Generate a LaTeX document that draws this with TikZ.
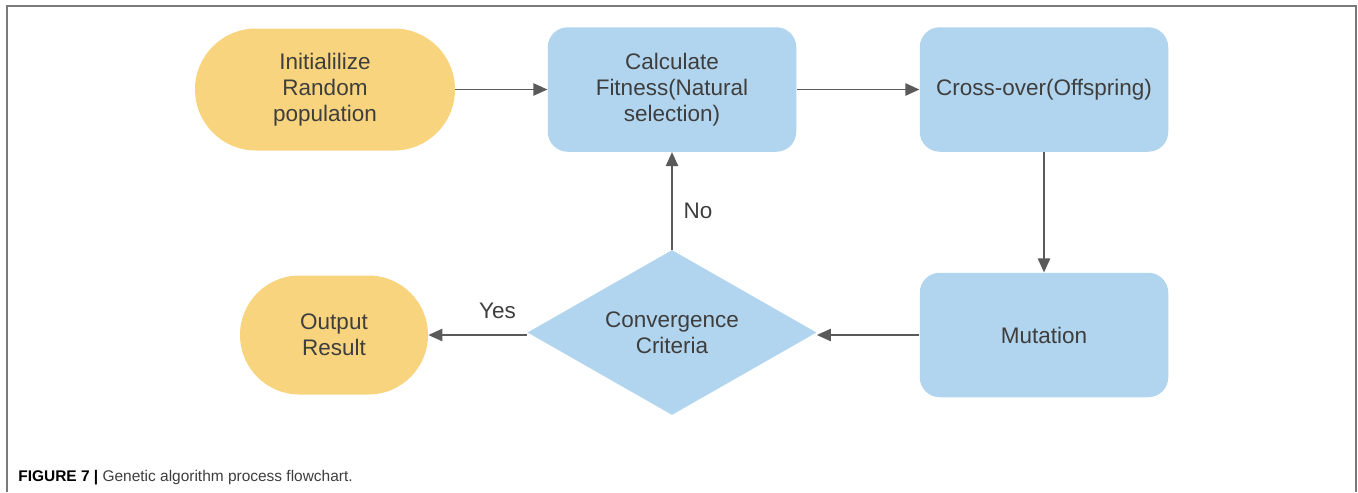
\documentclass[tikz,border=0pt]{standalone}
\usepackage{fontspec}
\setmainfont{Liberation Sans}
\usepackage{xcolor}
\usepackage{tikz}
\usetikzlibrary{positioning,arrows.meta,shapes.geometric}
\definecolor{gold}{HTML}{F9D47E}
\definecolor{sky}{HTML}{B1D5EE}
\definecolor{ink}{HTML}{3E3E3E}
\definecolor{wire}{HTML}{5A5A5A}
\definecolor{edge}{HTML}{7A7A7A}
\tikzset{
  base/.style={text=ink,align=center,inner sep=0pt,
               font=\fontsize{12.8}{14.8}\selectfont},
  terminal/.style={base,fill=gold},
  process/.style={base,fill=sky,rounded corners=0.4cm,
                  minimum width=4.97cm,minimum height=2.49cm},
  decision/.style={base,fill=sky,diamond,aspect=1.75,
                   minimum width=5.78cm,minimum height=3.3cm},
  flow/.style={draw=wire,line width=1pt,-{Triangle[length=8pt,width=7pt]}},
  tag/.style={text=ink,font=\fontsize{12.8}{14.8}\selectfont}
}

\begin{document}
\begin{tikzpicture}
\useasboundingbox (0,0) rectangle (27.16,-9.84);
\draw[edge,line width=1.1pt] (0.14,-9.84) -- (0.14,-0.12) -- (27.12,-0.12) -- (27.12,-9.84);

\node[terminal,rounded corners=1.22cm,minimum width=5.2cm,minimum height=2.44cm]
  (init) at (6.5,-1.79) {Initialilize\\Random\\population};
\node[process] (calc) at (13.44,-1.79) {Calculate\\Fitness(Natural\\selection)};
\node[process] (cross) at (20.88,-1.79) {Cross-over(Offspring)};
\node[process] (mut) at (20.88,-6.7) {Mutation};
\node[decision] (dia) at (13.44,-6.65) {Convergence\\Criteria};
\node[terminal,rounded corners=1.19cm,minimum width=3.76cm,minimum height=2.38cm]
  (out) at (6.68,-6.7) {Output\\Result};

\draw[flow] (init) -- (calc);
\draw[flow] (calc) -- (cross);
\draw[flow] (cross) -- (mut);
\draw[flow] (mut) -- (mut -| dia.east);
\draw[flow] (dia) -- node[tag,pos=0.4,right=0.1cm] (no) {No} (calc);
\draw[flow] (dia.west |- out) -- node[tag,pos=0.3,above=0.2cm] (yes) {Yes} (out);

\node[anchor=base west,inner sep=0pt,font=\fontsize{8.8}{10}\selectfont] (cap) at (0.36,-9.62)
  {\textbf{FIGURE 7 |} \textcolor{ink}{Genetic algorithm process flowchart.}};
\end{tikzpicture}
\end{document}
